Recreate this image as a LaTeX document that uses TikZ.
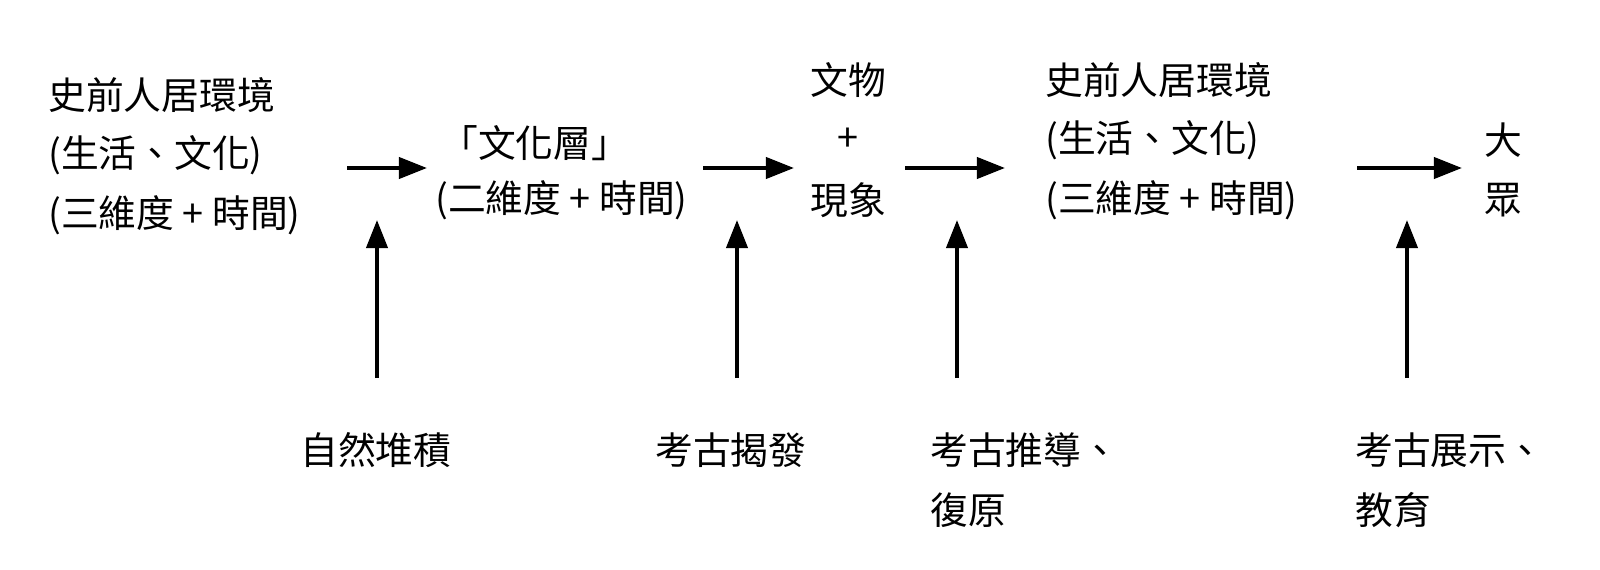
\documentclass[tikz,border=0pt]{standalone}
\usepackage{fontspec}
\setmainfont{Noto Sans CJK TC}
\usetikzlibrary{arrows.meta}
\begin{document}
\begin{tikzpicture}[x=0.02cm,y=-0.02cm,
  t/.style={inner sep=0pt,font=\fontsize{21.5}{24}\selectfont},
  ar/.style={line width=2.3pt,-{Triangle[length=16pt,width=12pt]}}]
\useasboundingbox (0,0) rectangle (1600,569);
% block 1
\node[t,anchor=west] (a1) at (48,95) {史前人居環境};
\node[t,anchor=west] (a2) at (48,155) {(生活、文化)};
\node[t,anchor=west] (a3) at (48,215) {(三維度 + 時間)};
% block 2
\node[t,anchor=west] (b1) at (440,143) {「文化層」};
\node[t,anchor=west] (b2) at (435,200) {(二維度 + 時間)};
% block 3
\node[t] (c1) at (848,80) {文物};
\node[t] (c2) at (848,140) {+};
\node[t] (c3) at (848,200) {現象};
% block 4
\node[t,anchor=west] (d1) at (1045,80) {史前人居環境};
\node[t,anchor=west] (d2) at (1045,140) {(生活、文化)};
\node[t,anchor=west] (d3) at (1045,200) {(三維度 + 時間)};
% block 5
\node[t] (e1) at (1503,140) {大};
\node[t] (e2) at (1503,200) {眾};
% bottom labels
\node[t,anchor=west] (f1) at (300,450) {自然堆積};
\node[t,anchor=west] (f2) at (655,450) {考古揭發};
\node[t,anchor=west] (f3) at (930,450) {考古推導、};
\node[t,anchor=west] (f3b) at (930,510) {復原};
\node[t,anchor=west] (f4) at (1355,450) {考古展示、};
\node[t,anchor=west] (f4b) at (1355,510) {教育};
% horizontal arrow coordinates
\coordinate (h1s) at (347,168); \coordinate (h1e) at (427,168);
\coordinate (h2s) at (703,168); \coordinate (h2e) at (794,168);
\coordinate (h3s) at (905,168); \coordinate (h3e) at (1005,168);
\coordinate (h4s) at (1357,168); \coordinate (h4e) at (1462,168);
\draw[ar] (h1s) -- (h1e);
\draw[ar] (h2s) -- (h2e);
\draw[ar] (h3s) -- (h3e);
\draw[ar] (h4s) -- (h4e);
% vertical arrows
\coordinate (v1s) at (377,378); \coordinate (v1e) at (377,220);
\coordinate (v2s) at (737,378); \coordinate (v2e) at (737,220);
\coordinate (v3s) at (957,378); \coordinate (v3e) at (957,220);
\coordinate (v4s) at (1407,378); \coordinate (v4e) at (1407,220);
\draw[ar] (v1s) -- (v1e);
\draw[ar] (v2s) -- (v2e);
\draw[ar] (v3s) -- (v3e);
\draw[ar] (v4s) -- (v4e);
\end{tikzpicture}
\end{document}
